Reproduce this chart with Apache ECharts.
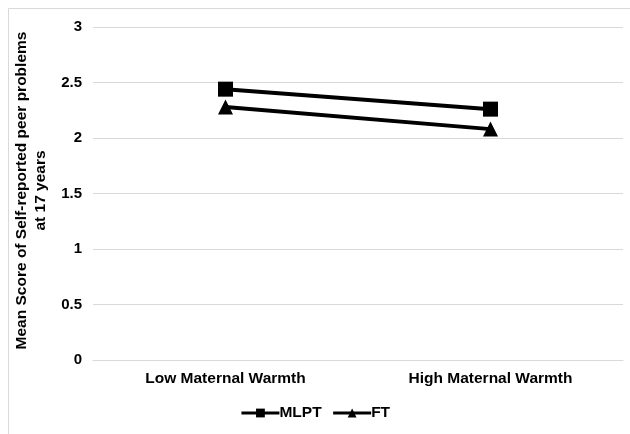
<!DOCTYPE html>
<html>
<head>
<meta charset="utf-8">
<script src="https://cdn.jsdelivr.net/npm/echarts@6/dist/echarts.min.js"></script>
<style>html,body{margin:0;padding:0;background:#fff;}#c{width:630px;height:434px;}</style>
</head>
<body>
<div id="c"></div>
<script>
const categories = ['Low Maternal Warmth', 'High Maternal Warmth'];
const mlpt = [2.44, 2.26];
const ft = [2.28, 2.08];
const yTicks = [0, 0.5, 1, 1.5, 2, 2.5, 3];
const yName = 'Mean Score of Self-reported peer problems\nat 17 years';

const chart = echarts.init(document.getElementById('c'));
const font = 'Liberation Sans, Arial, sans-serif';
chart.setOption({
  animation: false,
  backgroundColor: '#fff',
  graphic: [{
    type: 'rect', shape: {x: 8.5, y: 8.5, width: 640, height: 440},
    style: {fill: 'none', stroke: '#d9d9d9', lineWidth: 1}, silent: true, z: -1
  }],
  grid: {left: 93, right: 7, top: 27, bottom: 74},
  legend: {
    data: ['MLPT', 'FT'],
    top: 400,
    left: 'center',
    itemWidth: 38,
    itemHeight: 11,
    itemGap: 10,
    lineStyle: {width: 3},
    textStyle: {fontFamily: font, fontWeight: 'bold', fontSize: 15.5, color: '#000', padding: [0, 0, 0, -5]}
  },
  xAxis: {
    type: 'category',
    data: categories,
    axisLine: {show: true, lineStyle: {color: '#d9d9d9', width: 1}},
    axisTick: {show: false},
    axisLabel: {fontFamily: font, fontWeight: 'bold', fontSize: 15.5, color: '#000', margin: 11}
  },
  yAxis: {
    type: 'value',
    min: 0, max: 3, interval: 0.5,
    name: yName,
    nameLocation: 'middle',
    nameGap: 37,
    nameRotate: 90,
    nameTextStyle: {fontFamily: font, fontWeight: 'bold', fontSize: 15.5, color: '#000', lineHeight: 19, padding: [0, 0, 0, 6]},
    axisLine: {show: false},
    axisTick: {show: false},
    splitLine: {lineStyle: {color: '#d9d9d9', width: 1}},
    axisLabel: {
      fontFamily: font, fontWeight: 'bold', fontSize: 15, color: '#000', margin: 11,
      formatter: v => yTicks.includes(v) ? String(v) : ''
    }
  },
  series: [
    {
      name: 'MLPT', type: 'line', data: mlpt,
      symbol: 'rect', symbolSize: 15,
      lineStyle: {color: '#000', width: 4},
      itemStyle: {color: '#000'}
    },
    {
      name: 'FT', type: 'line', data: ft,
      symbol: 'triangle', symbolSize: 15,
      lineStyle: {color: '#000', width: 4},
      itemStyle: {color: '#000'}
    }
  ]
});
</script>
</body>
</html>
